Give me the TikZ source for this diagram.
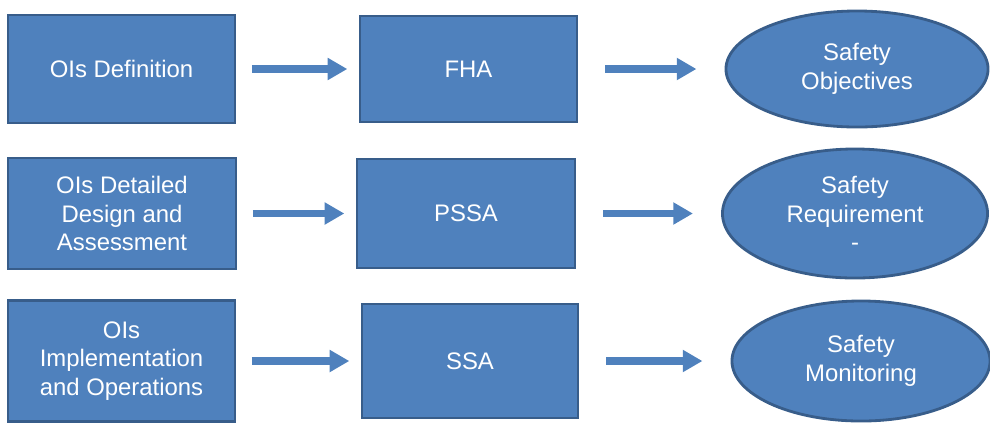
\documentclass[tikz,border=0pt]{standalone}
\usepackage{fontspec}
\setmainfont{Liberation Sans}
\usepackage{tikz}
\usetikzlibrary{arrows.meta,shapes.geometric}

\definecolor{boxblue}{RGB}{79,129,189}
\definecolor{edgeblue}{RGB}{56,93,138}

\tikzset{
	stagebox/.style={rectangle, draw=edgeblue, fill=boxblue, line width=2pt,
			text=white, align=center, font=\fontsize{17}{20.5}\selectfont},
	goal/.style={ellipse, draw=edgeblue, fill=boxblue, line width=2pt,
			text=white, align=center, font=\fontsize{17}{20.5}\selectfont},
	flow/.style={boxblue, line width=5pt, -{Triangle[length=14pt,width=15pt]}}
}

\begin{document}
\begin{tikzpicture}[x=0.025cm, y=-0.025cm]
		\useasboundingbox (0,0) rectangle (990,424);

		% Row y positions (in pixels of the reference)
		\def\rowone{69}
		\def\rowtwo{213.5}
		\def\rowthree{361}

		% Left column: operational improvement phases
		\node[stagebox, minimum width=5.675cm, minimum height=2.7cm] (oidef) at (121.5,\rowone) {OIs Definition};
		\node[stagebox, minimum width=5.7cm, minimum height=2.775cm] (oidet) at (122,\rowtwo) {OIs Detailed\\Design and\\Assessment};
		\node[stagebox, minimum width=5.675cm, minimum height=3.025cm] (oiimp) at (121.5,\rowthree) {OIs\\Implementation\\and Operations};

		% Middle column: safety assessments
		\node[stagebox, minimum width=5.425cm, minimum height=2.65cm] (fha) at (468.5,\rowone) {FHA};
		\node[stagebox, minimum width=5.45cm, minimum height=2.725cm] (pssa) at (466,\rowtwo) {PSSA};
		\node[stagebox, minimum width=5.4cm, minimum height=2.85cm] (ssa) at (470,\rowthree) {SSA};

		% Right column: outcomes
		\node[goal, minimum width=6.55cm, minimum height=2.9cm, inner sep=0pt] (obj) at (857,\rowone) {Safety\\Objectives};
		\node[goal, minimum width=6.625cm, minimum height=3.225cm, inner sep=0pt] (req) at (855,\rowtwo) {Safety\\Requirement\\-};
		\node[goal, minimum width=6.45cm, minimum height=3cm, inner sep=0pt] (mon) at (861,\rowthree) {Safety\\Monitoring};

		% Arrows between columns
		\foreach \a/\b in {oidef/fha, oidet/pssa, oiimp/ssa} {
				\draw[flow, shorten <=11pt, shorten >=8pt] (\a) -- (\b);
			}
		\foreach \a/\b in {fha/obj, pssa/req, ssa/mon} {
				\draw[flow, shorten <=19pt, shorten >=20pt] (\a) -- (\b);
			}
	\end{tikzpicture}
\end{document}
